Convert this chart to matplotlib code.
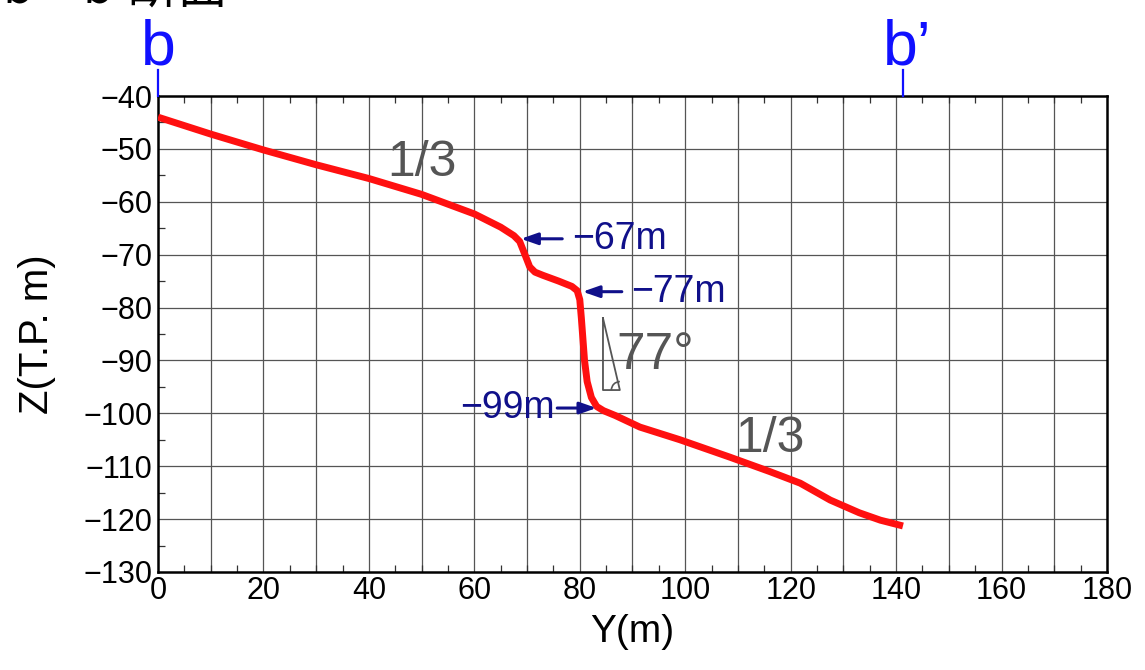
import matplotlib
matplotlib.use("Agg")
import matplotlib.pyplot as plt
from matplotlib.patches import Arc
from matplotlib.ticker import MultipleLocator

plt.rcParams['font.family'] = ['Liberation Sans', 'Noto Sans CJK JP', 'DejaVu Sans']

# profile data (Y, Z)
prof_y = [0, 10, 20, 30, 40, 50, 60, 65, 67.5, 68.6, 69.6, 70.5, 71.5, 73, 76, 78.5, 79.5, 80.0, 80.3,
          80.6, 80.9, 81.4, 82.2, 83.2, 84.5, 86.7, 91.4, 99, 108.5, 116, 121.8, 127.5, 133, 137, 141.3]
prof_z = [-44, -47.2, -50.2, -53, -55.6, -58.6, -62.3, -64.8, -66.4, -67.5, -70, -72.3, -73.3, -73.9,
          -75, -76.0, -76.8, -78.5, -82, -86, -90, -94, -97, -98.7, -99.5, -100.4, -102.6, -105,
          -108.3, -111, -113.2, -116.4, -118.8, -120.2, -121.3]

annot_labels = ['\u221267m', '\u221277m', '\u221299m']
annot_pts = [(68, -67), (79.7, -77), (84.0, -99)]
slope_labels = ['1/3', '1/3']
angle_label = '77°'
sec_labels = ['b', 'b\u2019']
sec_pos = [0, 141.3]

xticks = list(range(0, 181, 20))
yticks = list(range(-130, -39, 10))

fig = plt.figure(figsize=(11.45, 6.7), dpi=100)
ax = fig.add_axes([0.138, 0.1463, 0.8288, 0.7104])

ax.set_xlim(0, 180)
ax.set_ylim(-130, -40)
ax.set_xticks(xticks)
ax.set_yticks(yticks)
ax.xaxis.set_minor_locator(MultipleLocator(5))
ax.yaxis.set_minor_locator(MultipleLocator(5))
ax.set_yticklabels([f'\u2212{abs(v)}' for v in yticks])
ax.set_xticklabels([str(v) for v in xticks])

# grid every 10
for gx in range(10, 180, 10):
    ax.axvline(gx, color='#555555', lw=0.9, zorder=1)
for gy in range(-120, -40, 10):
    ax.axhline(gy, color='#555555', lw=0.9, zorder=1)

ax.tick_params(axis='both', which='both', direction='in', top=True, right=False, color='#333333')
ax.tick_params(axis='x', which='major', length=0, labelsize=22, pad=3)
ax.tick_params(axis='x', which='minor', length=5, width=0.9)
ax.tick_params(axis='y', which='major', length=0, labelsize=22, pad=4)
ax.tick_params(axis='y', which='minor', length=5, width=0.9)
for s in ax.spines.values():
    s.set_linewidth(1.8)
    s.set_color('black')

ax.plot(prof_y, prof_z, color='#ff1010', lw=5, zorder=5, solid_capstyle='butt',
        solid_joinstyle='round')

navy = '#10108a'
# -67m and -77m arrows (text to the right)
for lab, (px, pz), tx in [(annot_labels[0], annot_pts[0], 78.5), (annot_labels[1], annot_pts[1], 89.8)]:
    ax.annotate('', xy=(px + 0.3, pz), xytext=(tx - 1.3, pz),
                arrowprops=dict(arrowstyle='-|>,head_length=1.0,head_width=0.35', color=navy, lw=2.2), zorder=6)
    ax.text(tx, pz, lab, color=navy, fontsize=27, va='center', ha='left', zorder=6)
# -99m arrow (text to the left)
px, pz = annot_pts[2]
ax.annotate('', xy=(px - 0.3, pz), xytext=(75.2, pz),
            arrowprops=dict(arrowstyle='-|>,head_length=1.0,head_width=0.35', color=navy, lw=2.2), zorder=6)
ax.text(75.3, pz, annot_labels[2], color=navy, fontsize=27, va='center', ha='right', zorder=6)

gray = '#555555'
ax.text(43.5, -52.6, slope_labels[0], color=gray, fontsize=36, ha='left', va='center', zorder=6)
ax.text(109.5, -104.9, slope_labels[1], color=gray, fontsize=36, ha='left', va='center', zorder=6)
ax.text(87.0, -89.0, angle_label, color=gray, fontsize=37, ha='left', va='center', zorder=6)

# angle triangle
ax.plot([84.4, 84.4, 87.6, 84.4], [-82.0, -95.6, -95.6, -82.0], color=gray, lw=1.3, zorder=6)
ax.add_patch(Arc((87.6, -95.6), 3.2, 3.2, theta1=90, theta2=180,
                 color=gray, lw=1.2, zorder=6))

# section markers
for lab, xp in zip(sec_labels, sec_pos):
    ax.plot([xp, xp], [-40, -35.1], color='#1010ff', lw=1.6, clip_on=False, zorder=7)
    ax.text(xp + (0.9 if xp > 0 else 0), -34.1, lab, color='#1010ff', fontsize=45,
            ha='center', va='baseline', clip_on=False)

ax.set_xlabel('Y(m)', fontsize=28, labelpad=6)
ax.set_ylabel('Z(T.P. m)', fontsize=29, labelpad=8)
ax.yaxis.set_label_coords(-0.108, 0.5)

# clipped title at the very top
fig.text(0.199, 1 - 4 / 670, 'b\uff0db\u2019断面', fontsize=36, ha='right', va='baseline',
         family=['Noto Sans CJK JP', 'DejaVu Sans'])

fig.savefig('out.png', dpi=100)
